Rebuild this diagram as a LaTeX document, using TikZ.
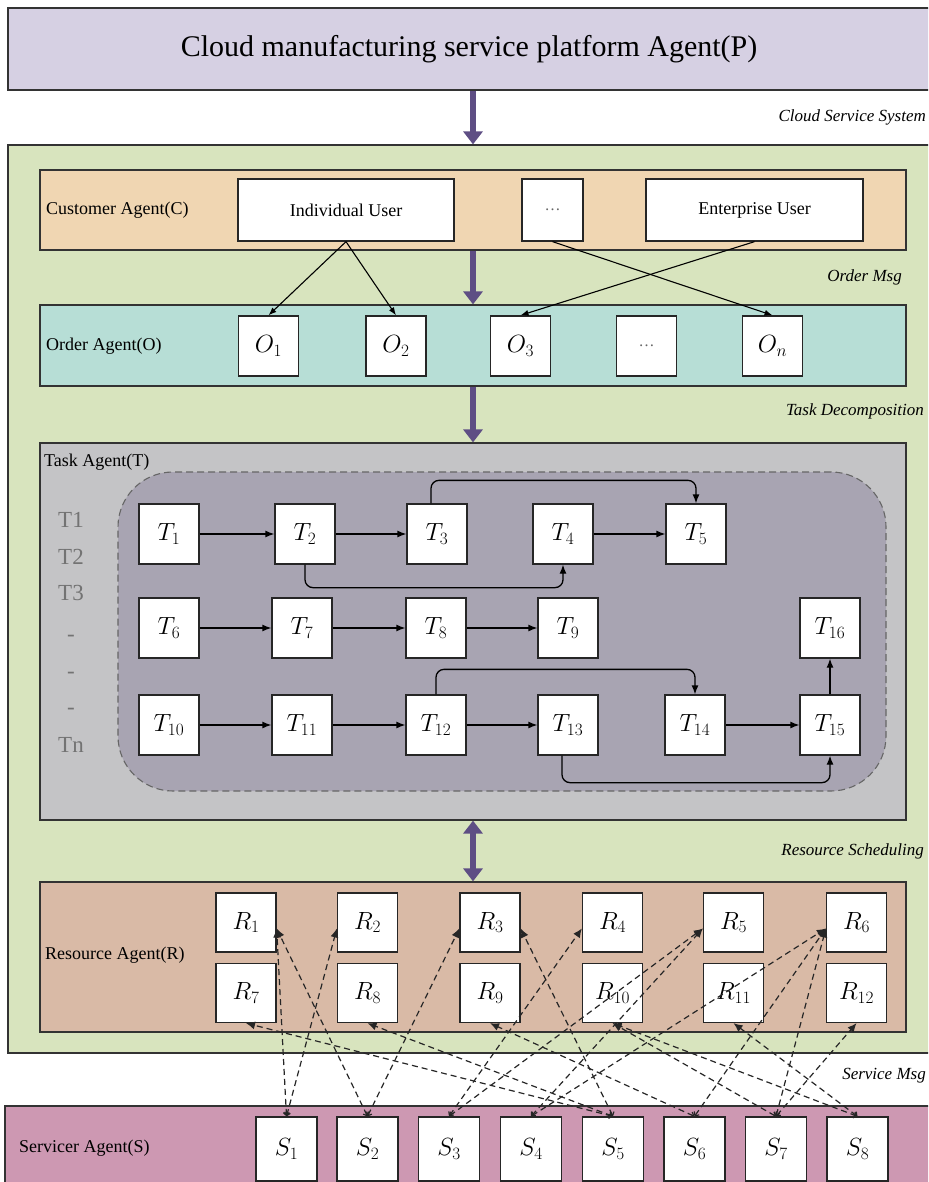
\documentclass[tikz,border=0pt]{standalone}
\usepackage{fontspec}
\setmainfont{Liberation Serif}
\usetikzlibrary{arrows.meta}

\definecolor{platformfill}{RGB}{214,208,227}
\definecolor{systemfill}{RGB}{216,228,190}
\definecolor{customerfill}{RGB}{240,214,178}
\definecolor{orderfill}{RGB}{183,222,214}
\definecolor{taskfill}{RGB}{196,196,198}
\definecolor{taskinner}{RGB}{168,164,178}
\definecolor{resourcefill}{RGB}{217,186,166}
\definecolor{servicerfill}{RGB}{205,152,178}
\definecolor{flowcol}{RGB}{94,78,132}

\begin{document}
\begin{tikzpicture}[x=1pt,y=-1pt,
  band/.style={draw=black!80, line width=1.2pt, inner sep=0pt, rectangle},
  cell/.style={draw=black!85, fill=white, line width=1.3pt, inner sep=0pt,
               minimum width=60pt, minimum height=60pt},
  lbl/.style={font=\fontsize{18}{20}\selectfont, inner sep=0pt},
  msg/.style={font=\fontsize{17}{19}\selectfont\itshape, inner sep=0pt, anchor=east},
  mathlbl/.style={font=\fontsize{24}{26}\selectfont},
  rslbl/.style={font=\fontsize{24}{26}\selectfont},
  tlbl/.style={font=\fontsize{23}{25}\selectfont, text=black!55, inner sep=0pt},
  flow/.style={line width=6pt, draw=flowcol, -{Triangle[length=13pt,width=19pt]}},
  flowboth/.style={line width=6pt, draw=flowcol,
                   {Triangle[length=13pt,width=19pt]}-{Triangle[length=13pt,width=19pt]}},
  tarrow/.style={line width=1.3pt, draw=black, -{Latex[length=9pt,width=7pt]},
                 rounded corners=8pt},
  carrow/.style={line width=1.1pt, draw=black, -{Latex[length=8pt,width=6pt]}},
  link/.style={line width=1.2pt, draw=black!85, dash pattern=on 6pt off 4pt,
               {Straight Barb[length=3pt,width=6pt]}-{Latex[length=9pt,width=8pt]}}
]
\useasboundingbox (0,0) rectangle (928,1182);
\clip (0,0) rectangle (928,1182);

% ---- platform and system frame ----
\node[band, fill=platformfill, minimum width=922pt, minimum height=82pt] (platform) at (469,49) {};
\node[font=\fontsize{30}{34}\selectfont, inner sep=0pt] (title) at (469,49)
  {Cloud manufacturing service platform Agent(P)};
\node[band, fill=systemfill, minimum width=922pt, minimum height=908pt] (system) at (469,599) {};
\node[band, fill=servicerfill, minimum width=925pt, minimum height=84pt] (servicer) at (467.5,1148) {};

% ---- agent bands ----
\node[band, fill=customerfill, minimum width=866pt, minimum height=80pt] (customer) at (473,210) {};
\node[band, fill=orderfill, minimum width=866pt, minimum height=81pt] (order) at (473,345.5) {};
\node[band, fill=taskfill, minimum width=866pt, minimum height=377pt] (task) at (473,631.5) {};
\node[band, fill=resourcefill, minimum width=866pt, minimum height=150pt] (resource) at (473,957) {};
\node[draw=black!60, line width=1.1pt, dash pattern=on 7pt off 4pt, fill=taskinner,
      rounded corners=55pt, minimum width=768pt, minimum height=319pt, inner sep=0pt]
      (taskgroup) at (502,631.5) {};

% ---- band labels ----
\node[lbl, anchor=west] (clab) at (46,210) {Customer Agent(C)};
\node[lbl, anchor=west] (olab) at (46,346) {Order Agent(O)};
\node[lbl, anchor=west] (tlab) at (44,462) {Task Agent(T)};
\node[lbl, anchor=west] (rlab) at (45,955) {Resource Agent(R)};
\node[lbl, anchor=west] (slab) at (19,1148) {Servicer Agent(S)};

% ---- message labels ----
\node[msg] (m1) at (926,117) {Cloud Service System};
\node[msg] (m2) at (902,277) {Order Msg};
\node[msg] (m3) at (924,411) {Task Decomposition};
\node[msg] (m4) at (924,851) {Resource Scheduling};
\node[msg] (m5) at (926,1076) {Service Msg};

% ---- flow arrows between layers ----
\coordinate (axis) at (473,0);
\draw[flow] (platform.south -| axis) -- (system.north -| axis);
\draw[flow] (customer.south -| axis) -- (order.north -| axis);
\draw[flow] (order.south -| axis) -- (task.north -| axis);
\draw[flowboth] (task.south -| axis) -- (resource.north -| axis);

% ---- customers ----
\node[cell, lbl, minimum width=216pt, minimum height=62pt] (indiv) at (346,210) {Individual User};
\node[cell, minimum width=61pt, minimum height=62pt, text=black!60,
      font=\fontsize{16}{18}\selectfont] (cdots) at (552.5,210) {\ldots};
\node[cell, lbl, minimum width=217pt, minimum height=62pt] (enter) at (754.5,210) {Enterprise User};

% ---- orders ----
\node[cell, mathlbl] (O1) at (268.5,346) {$O_1$};
\node[cell, mathlbl] (O2) at (396,346) {$O_2$};
\node[cell, mathlbl] (O3) at (520.5,346) {$O_3$};
\node[cell, text=black!60, font=\fontsize{16}{18}\selectfont] (Odots) at (646.5,346) {\ldots};
\node[cell, mathlbl] (On) at (772.5,346) {$O_n$};

\draw[carrow] (indiv.south) -- (O1.north);
\draw[carrow] (indiv.south) -- (O2.north);
\draw[carrow] (cdots.south) -- (On.north);
\draw[carrow] (enter.south) -- (O3.north);

% ---- task row labels ----
\node[tlbl] (tl1) at (71,520) {T1};
\node[tlbl] (tl2) at (71,557) {T2};
\node[tlbl] (tl3) at (71,593) {T3};
\node[tlbl] (tl4) at (71,638) {-};
\node[tlbl] (tl5) at (71,675) {-};
\node[tlbl] (tl6) at (71,711) {-};
\node[tlbl] (tln) at (71,745) {Tn};

% ---- tasks ----
\node[cell, mathlbl] (T1) at (169,534) {$T_{1}$};
\node[cell, mathlbl] (T2) at (305,534) {$T_{2}$};
\node[cell, mathlbl] (T3) at (437,534) {$T_{3}$};
\node[cell, mathlbl] (T4) at (563,534) {$T_{4}$};
\node[cell, mathlbl] (T5) at (696,534) {$T_{5}$};
\node[cell, mathlbl] (T6) at (169,628) {$T_{6}$};
\node[cell, mathlbl] (T7) at (302,628) {$T_{7}$};
\node[cell, mathlbl] (T8) at (436,628) {$T_{8}$};
\node[cell, mathlbl] (T9) at (568,628) {$T_{9}$};
\node[cell, mathlbl] (T16) at (830,628) {$T_{16}$};
\node[cell, mathlbl] (T10) at (169,725) {$T_{10}$};
\node[cell, mathlbl] (T11) at (302,725) {$T_{11}$};
\node[cell, mathlbl] (T12) at (436,725) {$T_{12}$};
\node[cell, mathlbl] (T13) at (568,725) {$T_{13}$};
\node[cell, mathlbl] (T14) at (695,725) {$T_{14}$};
\node[cell, mathlbl] (T15) at (830,725) {$T_{15}$};

\foreach \a/\b in {T1/T2,T2/T3,T4/T5,T6/T7,T7/T8,T8/T9,T10/T11,T11/T12,T12/T13,T14/T15}
  \draw[tarrow] (\a.east) -- (\b.west);
\draw[tarrow] (T15.north) -- (T16.south);
\draw[tarrow] ([xshift=-6pt]T3.north) -- ++(0,-23) -| (T5.north);
\draw[tarrow] (T2.south) -- ++(0,23) -| (T4.south);
\draw[tarrow] (T12.north) -- ++(0,-25) -| (T14.north);
\draw[tarrow] ([xshift=-6pt]T13.south) -- ++(0,27) -| (T15.south);

% ---- resources ----
\foreach \i/\x in {1/246,2/367.5,3/490,4/612.5,5/733.5,6/856.5}
  \node[cell, rslbl, minimum height=59pt] (R\i) at (\x,922.5) {$R_{\i}$};
\foreach \i/\x in {7/246,8/367.5,9/490,10/612.5,11/733.5,12/856.5}
  \node[cell, rslbl, minimum height=59pt] (R\i) at (\x,993) {$R_{\i}$};

% ---- servicers ----
\foreach \i/\x in {1/286.5,2/367.5,3/449,4/531,5/613,6/694.5,7/776,8/857.5}
  \node[cell, rslbl, minimum width=61pt, minimum height=64pt] (S\i) at (\x,1149) {$S_{\i}$};

% ---- service links (servicer -> resource) ----
\foreach \s/\r in {S1/R1.east,S1/R2.west,S2/R1.east,S2/R3.west,S3/R4.west,S3/R5.west,
                   S4/R5.west,S4/R6.west,S5/R3.east,S6/R6.west,S7/R6.west}
  \draw[link] (\s.north) -- ([yshift=-6pt]\r);
\foreach \s/\r in {S5/R7,S5/R8,S6/R9,S7/R10,S7/R12,S8/R10,S8/R11}
  \draw[link] (\s.north) -- (\r.south);

\end{tikzpicture}
\end{document}
